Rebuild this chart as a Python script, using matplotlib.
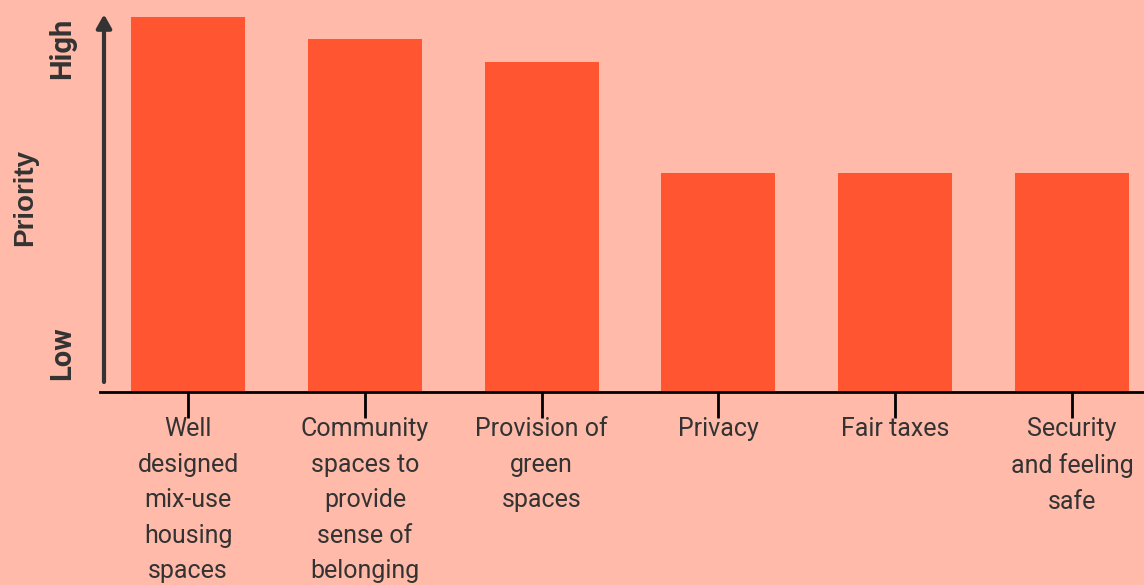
import matplotlib.pyplot as plt
import numpy as np

BG = '#FFBAA9'
BAR = '#FF5530'
INK = '#333333'

categories = [
    'Well\ndesigned\nmix-use\nhousing\nspaces',
    'Community\nspaces to\nprovide\nsense of\nbelonging',
    'Provision of\ngreen\nspaces',
    'Privacy',
    'Fair taxes',
    'Security\nand feeling\nsafe',
]
priority = [100, 94, 88, 58.4, 58.4, 58.4]

W, H = 1144, 585
fig = plt.figure(figsize=(W / 100, H / 100), dpi=100, facecolor=BG)
ax = fig.add_axes([100 / W, (H - 392) / H, 1044 / W, 375 / H])
ax.set_facecolor(BG)

x = np.arange(len(categories))
ax.bar(x, priority, width=0.645, color=BAR, zorder=2)

ax.set_xlim(-0.498, 5.407)
ax.set_ylim(0, 100)

for s in ['top', 'right', 'left']:
    ax.spines[s].set_visible(False)
ax.spines['bottom'].set_linewidth(2)
ax.spines['bottom'].set_color('black')

ax.set_yticks([])
ax.set_xticks(x)
ax.set_xticklabels(categories, fontsize=18, family='Roboto', color=INK,
                   linespacing=1.61)
ax.tick_params(axis='x', length=19, width=2, color='black', pad=-1)

# priority arrow
ax.annotate('', xy=(4 / 1044, 1.007), xytext=(4 / 1044, 10 / 375),
            xycoords='axes fraction', textcoords='axes fraction',
            arrowprops=dict(arrowstyle='-|>,head_width=0.45,head_length=0.8',
                            color=INK, lw=3, shrinkA=0, shrinkB=0),
            annotation_clip=False)

fig.text(62 / W, 1 - 48 / H, 'High', rotation=90, ha='center', va='center',
         fontsize=21, fontweight='bold', family='Roboto', color=INK)
fig.text(62 / W, 1 - 353 / H, 'Low', rotation=90, ha='center', va='center',
         fontsize=21, fontweight='bold', family='Roboto', color=INK)
fig.text(25 / W, 1 - 198 / H, 'Priority', rotation=90, ha='center',
         va='center', fontsize=20, fontweight='bold',
         family='Liberation Sans', color=INK)

fig.savefig('out.png', dpi=100, facecolor=BG)
